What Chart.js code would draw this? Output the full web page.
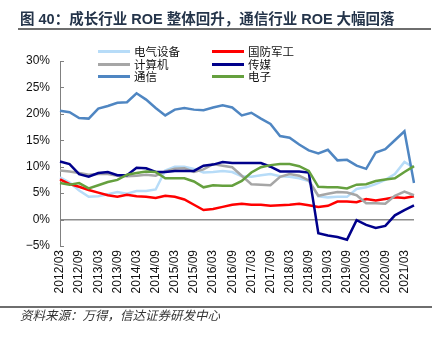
<!DOCTYPE html>
<html>
<head>
<meta charset="utf-8">
<script src="https://cdn.jsdelivr.net/npm/chart.js@4.4.1/dist/chart.umd.min.js"></script>
<style>
  html, body { margin:0; padding:0; background:#fff; }
  #wrap { position:relative; width:441px; height:339px; overflow:hidden; }
  #c { position:absolute; left:0; top:0; }
  .title { position:absolute; left:20px; top:9px; font:bold 14.5px "Liberation Sans","Noto Sans CJK SC",sans-serif; color:#24344a; white-space:nowrap; line-height:20px; }
  .rule { position:absolute; height:2px; background:#6e6e6e; }
  .src { position:absolute; left:20px; top:306px; font:italic 12.5px "Noto Sans CJK SC",sans-serif; color:#333; white-space:nowrap; line-height:18px; }
  .lg { position:absolute; font:11.5px "Noto Sans CJK SC",sans-serif; color:#111; white-space:nowrap; line-height:14px; }
  .sw { position:absolute; width:32px; height:3px; }
</style>
</head>
<body>
<div id="wrap">
  <canvas id="c" width="441" height="339"></canvas>
  <div class="title">图 40：成长行业 ROE 整体回升，通信行业 ROE 大幅回落</div>
  <div class="rule" style="left:18px; top:28px; width:413px;"></div>
  <div class="rule" style="left:0px; top:306px; width:432px; height:1.5px;"></div>
  <div class="src">资料来源：万得，信达证券研发中心</div>
  <div id="legend"></div>
</div>
<script>
// Quarterly periods
const labels = [
  '2012/03','2012/06','2012/09','2012/12','2013/03','2013/06','2013/09','2013/12',
  '2014/03','2014/06','2014/09','2014/12','2015/03','2015/06','2015/09','2015/12',
  '2016/03','2016/06','2016/09','2016/12','2017/03','2017/06','2017/09','2017/12',
  '2018/03','2018/06','2018/09','2018/12','2019/03','2019/06','2019/09','2019/12',
  '2020/03','2020/06','2020/09','2020/12','2021/03','2021/06'
];
const seriesNames = ['电气设备','国防军工','计算机','传媒','通信','电子'];
const elecEquip = [8.0,7.0,5.5,4.3,4.4,4.8,5.2,4.9,5.4,5.4,5.7,9.3,10.0,10.0,9.6,8.9,9.0,9.2,9.0,8.2,8.1,8.4,8.6,8.2,8.1,7.8,7.3,4.4,4.2,4.3,4.3,5.8,6.1,6.7,7.5,8.6,10.9,9.8];
const defense   = [7.6,6.7,6.2,5.6,5.1,4.6,4.3,4.7,4.4,4.3,4.1,4.5,4.3,3.8,2.8,1.8,2.0,2.4,2.8,3.0,2.8,2.8,2.6,2.7,2.8,3.0,2.7,2.4,2.6,3.4,3.4,3.3,3.9,3.6,3.9,4.2,4.1,4.4];
const computer  = [9.3,9.1,8.8,8.5,8.6,8.6,8.3,8.2,8.3,8.5,8.3,9.1,9.6,9.7,9.0,9.5,10.5,10.2,9.9,8.3,6.7,6.6,6.5,8.1,8.6,8.3,7.4,4.5,4.9,5.2,5.1,4.6,3.1,3.1,3.0,4.5,5.3,4.6];
const media     = [11.0,10.5,8.6,8.1,8.8,9.0,8.4,8.4,9.8,9.7,9.0,9.0,9.2,9.2,9.2,10.2,10.4,10.9,10.7,10.7,10.7,10.7,10.0,9.1,9.1,9.1,8.9,-2.6,-3.0,-3.3,-3.8,-0.1,-1.0,-1.6,-1.2,0.8,1.8,2.7];
const telecom   = [20.6,20.3,19.2,19.1,21.0,21.5,22.1,22.2,23.9,22.7,21.1,19.7,20.8,21.1,20.8,20.7,21.2,21.6,21.2,19.7,20.2,19.1,18.1,15.8,15.5,14.2,13.1,12.5,13.2,11.2,11.3,10.2,9.6,12.7,13.3,15.0,16.7,6.9];
const electronics = [6.9,6.6,6.9,5.9,6.5,7.1,7.5,8.5,8.8,9.1,9.0,7.8,7.8,7.8,7.2,6.1,6.5,6.4,6.4,7.3,8.9,9.9,10.3,10.5,10.5,10.1,9.2,6.2,6.1,6.1,5.9,6.6,6.7,7.3,7.6,7.8,9.0,10.1];
const yTicks = [-5,0,5,10,15,20,25,30];

const seriesData = [elecEquip, defense, computer, media, telecom, electronics];
const colors = ['#b7dcf8','#ff0000','#a6a6a6','#00008b','#4f86c2','#65a03e'];

// HTML legend (2 columns x 3 rows)
const lg = document.getElementById('legend');
const colX = [98, 212];
const rowY = [51.5, 64, 76.3];
seriesNames.forEach((n, i) => {
  const col = i % 2, row = Math.floor(i / 2);
  const sw = document.createElement('div');
  sw.className = 'sw';
  sw.style.left = colX[col] + 'px';
  sw.style.top = (rowY[row] - 1.5) + 'px';
  sw.style.background = colors[i];
  lg.appendChild(sw);
  const t = document.createElement('div');
  t.className = 'lg';
  t.textContent = n;
  t.style.left = (colX[col] + 36) + 'px';
  t.style.top = (rowY[row] - 7.5) + 'px';
  lg.appendChild(t);
});

const innerTicks = {
  id: 'innerTicks',
  afterDraw(chart) {
    const y = chart.scales.y, ctx = chart.ctx;
    ctx.save();
    ctx.strokeStyle = '#808080';
    ctx.lineWidth = 1;
    yTicks.forEach(v => {
      const py = Math.round(y.getPixelForValue(v)) + 0.5;
      ctx.beginPath();
      ctx.moveTo(chart.chartArea.left, py);
      ctx.lineTo(chart.chartArea.left + 4, py);
      ctx.stroke();
    });
    ctx.restore();
  }
};

new Chart(document.getElementById('c'), {
  type: 'line',
  data: {
    labels: labels,
    datasets: seriesNames.map((n, i) => ({
      label: n,
      data: seriesData[i],
      borderColor: colors[i],
      backgroundColor: colors[i],
      borderWidth: 2.5,
      pointRadius: 0,
      tension: 0,
      fill: false,
      order: 5 - i
    }))
  },
  options: {
    responsive: false,
    animation: false,
    devicePixelRatio: 1,
    layout: { padding: { top: 61, left: 0, right: 27, bottom: 0 } },
    plugins: { legend: { display: false }, tooltip: { enabled: false } },
    scales: {
      x: {
        type: 'category',
        offset: false,
        grid: { display: false, drawTicks: false },
        border: { display: false },
        ticks: {
          autoSkip: false, minRotation: 90, maxRotation: 90, padding: 4,
          color: '#111',
          font: { family: 'Liberation Sans', size: 12 },
          callback: (v, i) => (i % 2 === 0 ? labels[i] : '')
        },
        afterFit: s => { s.height = 93; }
      },
      y: {
        min: -5, max: 30,
        afterBuildTicks: s => { s.ticks = yTicks.map(v => ({ value: v })); },
        grid: {
          drawTicks: false,
          color: c => (c.tick && c.tick.value === 0 ? '#8c8c8c' : 'rgba(0,0,0,0)'),
          lineWidth: c => (c.tick && c.tick.value === 0 ? 1.5 : 0)
        },
        border: { display: true, color: '#808080', width: 1 },
        ticks: {
          padding: 10, color: '#111',
          font: { family: 'Liberation Sans', size: 12 },
          callback: v => (v < 0 ? '\u2212' : '') + Math.abs(v) + '%'
        },
        afterFit: s => { s.width = 60; }
      }
    }
  },
  plugins: [innerTicks]
});
</script>
</body>
</html>
